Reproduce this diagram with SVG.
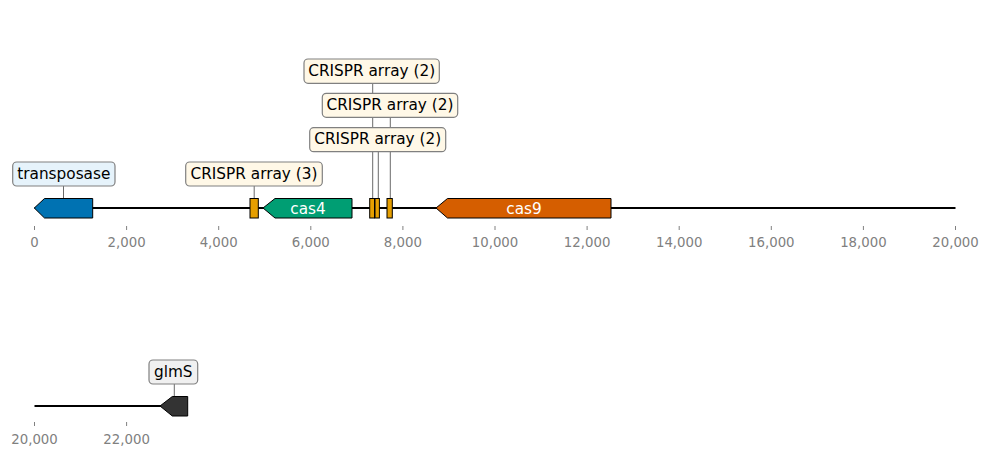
<svg xmlns="http://www.w3.org/2000/svg" width="989" height="457" viewBox="0 0 989 457">
<style>
.bg{fill:#ffffff}
.axis{stroke:#000;stroke-width:2;fill:none}
.gene{stroke:#000;stroke-width:1}
.lead{stroke:#444;stroke-width:0.8;fill:none}
.box{stroke:#808080;stroke-width:1.2}
.lbl{font-family:"DejaVu Sans",sans-serif;font-size:15.3px;fill:#000;text-anchor:middle}
.glbl{font-family:"DejaVu Sans",sans-serif;font-size:15.3px;fill:#fff;text-anchor:middle}
.tick{stroke:#808080;stroke-width:1}
.tl{font-family:"DejaVu Sans",sans-serif;font-size:13.3px;fill:#808080;text-anchor:middle}
</style>
<rect class="bg" x="0" y="0" width="989" height="457"/>
<g id="connectors">
<line class="axis" x1="34.5" y1="208" x2="955.5" y2="208"/>
<line class="axis" x1="34.5" y1="406" x2="180" y2="406"/>
<line class="lead" x1="63.5" y1="186" x2="63.5" y2="199"/>
<line class="lead" x1="254.2" y1="186" x2="254.2" y2="199"/>
<line class="lead" x1="372.7" y1="83" x2="372.7" y2="199"/>
<line class="lead" x1="378.3" y1="151" x2="378.3" y2="199"/>
<line class="lead" x1="390.3" y1="117" x2="390.3" y2="199"/>
<line class="lead" x1="174.3" y1="384" x2="174.3" y2="396"/>
</g>
<g id="axis1">
<g class="tick">
<line x1="34.5" y1="226" x2="34.5" y2="230"/><line x1="126.6" y1="226" x2="126.6" y2="230"/><line x1="218.7" y1="226" x2="218.7" y2="230"/><line x1="310.8" y1="226" x2="310.8" y2="230"/><line x1="402.9" y1="226" x2="402.9" y2="230"/><line x1="495" y1="226" x2="495" y2="230"/><line x1="587.1" y1="226" x2="587.1" y2="230"/><line x1="679.2" y1="226" x2="679.2" y2="230"/><line x1="771.3" y1="226" x2="771.3" y2="230"/><line x1="863.4" y1="226" x2="863.4" y2="230"/><line x1="955.5" y1="226" x2="955.5" y2="230"/>
</g>
<text class="tl" x="34.5" y="247">0</text><text class="tl" x="126.6" y="247">2,000</text><text class="tl" x="218.7" y="247">4,000</text><text class="tl" x="310.8" y="247">6,000</text><text class="tl" x="402.9" y="247">8,000</text><text class="tl" x="495" y="247">10,000</text><text class="tl" x="587.1" y="247">12,000</text><text class="tl" x="679.2" y="247">14,000</text><text class="tl" x="771.3" y="247">16,000</text><text class="tl" x="863.4" y="247">18,000</text><text class="tl" x="955.5" y="247">20,000</text>
</g>
<g id="axis2">
<line class="tick" x1="34.5" y1="422" x2="34.5" y2="426"/><line class="tick" x1="126.6" y1="422" x2="126.6" y2="426"/>
<text class="tl" x="34.5" y="444">20,000</text><text class="tl" x="126.6" y="444">22,000</text>
</g>
<g id="transposase">
<polygon class="gene" fill="#0072B2" points="34.3,208 44.5,198.5 92.7,198.5 92.7,218 44.5,218"/>
<rect class="box" fill="#E6F3FB" x="12.7" y="162" width="102.3" height="24" rx="4"/>
<text class="lbl" x="63.8" y="178.7">transposase</text>
</g>
<g id="crispr3">
<rect class="gene" fill="#E69F00" x="250" y="198.5" width="8.3" height="19.5"/>
<rect class="box" fill="#FFF8E7" x="185.7" y="162" width="136.6" height="24" rx="4"/>
<text class="lbl" x="254" y="178.7">CRISPR array (3)</text>
</g>
<g id="cas4">
<polygon class="gene" fill="#009E73" points="263,208 275,198.5 352,198.5 352,218 275,218"/>
<text class="glbl" x="308" y="214">cas4</text>
</g>
<g id="crispr2a">
<rect class="gene" fill="#E69F00" x="369.7" y="198.5" width="4.8" height="19.5"/>
<rect class="box" fill="#FFF8E7" x="304" y="59" width="135.3" height="24.3" rx="4"/>
<text class="lbl" x="371.7" y="75.7">CRISPR array (2)</text>
</g>
<g id="crispr2b">
<rect class="gene" fill="#E69F00" x="375" y="198.5" width="4.4" height="19.5"/>
<rect class="box" fill="#FFF8E7" x="309.7" y="127.7" width="136" height="24" rx="4"/>
<text class="lbl" x="377.7" y="144.4">CRISPR array (2)</text>
</g>
<g id="crispr2c">
<rect class="gene" fill="#E69F00" x="387" y="198.5" width="5.3" height="19.5"/>
<rect class="box" fill="#FFF8E7" x="322.3" y="93.3" width="135.4" height="24" rx="4"/>
<text class="lbl" x="390" y="110">CRISPR array (2)</text>
</g>
<g id="cas9">
<polygon class="gene" fill="#D55E00" points="436,208 447.5,198.5 611,198.5 611,218 447.5,218"/>
<text class="glbl" x="524" y="214">cas9</text>
</g>
<g id="glmS">
<polygon class="gene" fill="#333333" points="160,406 172.3,396.5 187.7,396.5 187.7,416 172.3,416"/>
<rect class="box" fill="#F0F0F0" x="149" y="360" width="48.7" height="24" rx="4"/>
<text class="lbl" x="173.3" y="376.7">glmS</text>
</g>
</svg>
